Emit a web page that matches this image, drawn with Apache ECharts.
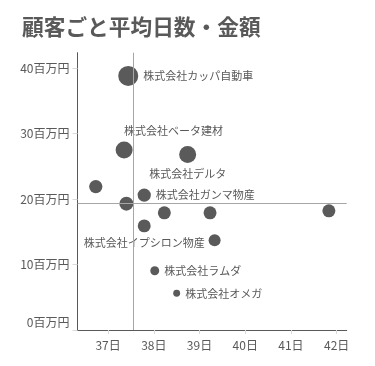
<!DOCTYPE html>
<html>
<head>
<meta charset="utf-8">
<script src="https://cdn.jsdelivr.net/npm/echarts@6/dist/echarts.min.js"></script>
<style>
html,body{margin:0;padding:0;background:#fff;}
#chart{width:375px;height:366px;}
</style>
</head>
<body>
<div id="chart"></div>
<script>
// ---- data ----
const customers = ['株式会社カッパ自動車','株式会社ベータ建材','株式会社デルタ','','','株式会社ガンマ物産','','','株式会社イプシロン物産','','','株式会社ラムダ','株式会社オメガ'];
const avgDays   = [37.44, 37.35, 38.74, 36.73, 37.40, 37.79, 38.23, 39.23, 37.79, 39.33, 41.83, 38.02, 38.50];
const amounts   = [38.8, 27.5, 26.8, 21.9, 19.3, 20.6, 17.9, 17.9, 15.9, 13.7, 18.2, 9.05, 5.6];
const bubbleWeights = [100, 72, 72, 44, 49, 44, 42, 42, 42, 36, 42, 20, 12];
const labelPlacement = ['right','topLeft','bottom','','','right','','','bottom','','','right','right'];
const avgDayLine = 37.55;
const avgAmountLine = 19.34;
const xTickValues = [37, 38, 39, 40, 41, 42];
const yTickValues = [0, 10, 20, 30, 40];
const titleText = '顧客ごと平均日数・金額';

// ---- chart ----
const FONT = '"Noto Sans CJK JP", "Noto Sans", sans-serif';
const GRAY = '#595959';
const chart = echarts.init(document.getElementById('chart'), null, {renderer: 'canvas'});

const seriesData = avgDays.map((x, i) => {
  const item = {value: [x, amounts[i], bubbleWeights[i]], name: customers[i]};
  const p = labelPlacement[i];
  if (customers[i]) {
    if (p === 'topLeft') {
      item.label = {show: true, position: 'top', align: 'left', distance: 5};
    } else {
      item.label = {show: true, position: p, distance: 5};
    }
  }
  return item;
});

chart.setOption({
  animation: false,
  textStyle: {fontFamily: FONT},
  title: {
    text: titleText,
    left: 17,
    top: 11,
    textStyle: {fontFamily: FONT, fontSize: 21.7, fontWeight: 'bold', color: GRAY}
  },
  grid: {left: 77.5, right: 28.3, top: 52.7, bottom: 36},
  xAxis: {
    type: 'value',
    min: 36.33,
    max: 42.22,
    splitLine: {show: false},
    axisLine: {show: true, lineStyle: {color: '#595959', width: 1}},
    axisTick: {show: true, length: 4, lineStyle: {color: '#d9d9d9'}, customValues: xTickValues},
    axisLabel: {
      customValues: xTickValues,
      formatter: v => v + '日',
      color: GRAY, fontSize: 12, fontFamily: FONT, margin: 9
    }
  },
  yAxis: {
    type: 'value',
    min: 0,
    max: 42.35,
    splitLine: {show: false},
    axisLine: {show: true, lineStyle: {color: '#595959', width: 1}},
    axisTick: {show: true, length: 5, lineStyle: {color: '#d9d9d9'}, customValues: yTickValues},
    axisLabel: {
      customValues: yTickValues,
      formatter: v => v === 0 ? '{z|' + v + '百万円}' : v + '百万円',
      rich: {z: {padding: [0, 0, 16, 0], color: GRAY, fontSize: 12, fontFamily: FONT}},
      color: GRAY, fontSize: 12, fontFamily: FONT, margin: 8
    }
  },
  series: [{
    type: 'scatter',
    data: seriesData,
    symbolSize: d => 2 * Math.sqrt(d[2]),
    itemStyle: {color: '#5a5a5a', opacity: 1},
    label: {
      show: false,
      formatter: p => p.name,
      color: GRAY, fontSize: 11, fontFamily: FONT
    },
    markLine: {
      silent: true,
      symbol: 'none',
      label: {show: false},
      lineStyle: {color: '#a6a6a6', width: 1, type: 'solid'},
      data: [{xAxis: avgDayLine}, {yAxis: avgAmountLine}]
    },
    z: 3
  }]
});
</script>
</body>
</html>
